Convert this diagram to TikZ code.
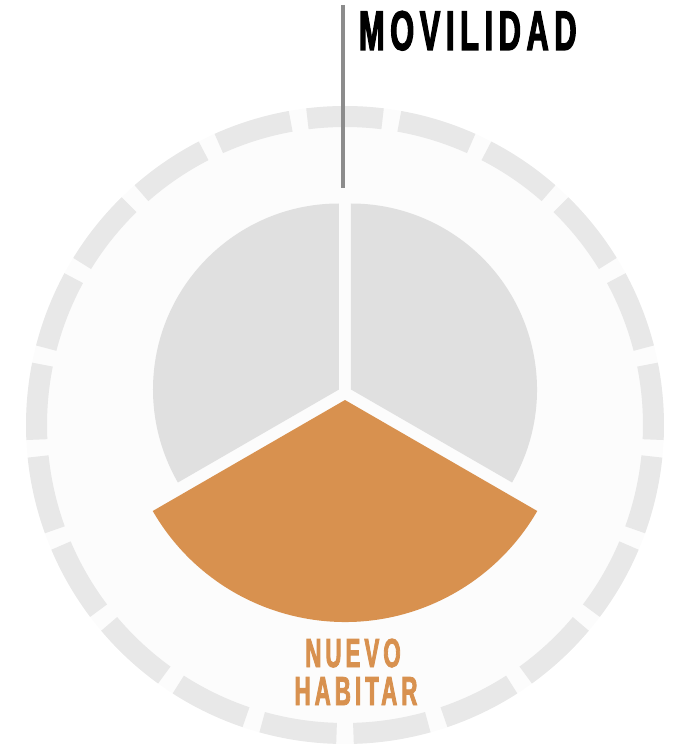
\documentclass[tikz,border=0pt]{standalone}
\usepackage{fontspec}
\newfontfamily\condfont{Liberation Sans Bold}[FakeStretch=0.55,LetterSpace=10,FakeBold=2]
\definecolor{sectorgray}{HTML}{E0E0E0}
\definecolor{ringgray}{HTML}{E8E8E8}
\definecolor{discgray}{HTML}{FCFCFC}
\definecolor{habitar}{HTML}{D8914F}
\definecolor{leadgray}{HTML}{8C8C8C}

\begin{document}
\begin{tikzpicture}[x=1pt, y=1pt,
    every node/.style={inner sep=0pt, outer sep=0pt},
    ringdash/.style={draw=ringgray, line width=21pt},
    wedge/.style={fill=sectorgray},
    title/.style={font=\condfont\fontsize{56}{56}\selectfont, text=black},
    caption/.style={font=\condfont\fontsize{40.5}{40}\selectfont, text=habitar}]
	% Frame
	\useasboundingbox (-345,-320) rectangle (337,425);
	
	% Background disc and dashed ring
	\fill[discgray] (0,0) circle[radius=319pt];
	\foreach \i in {0,...,20}
		\draw[ringdash] ({90+\i*360/21-7}:308.5) arc[start angle={90+\i*360/21-7}, delta angle=14, radius=308.5pt];
	
	% Sectors
	\fill[wedge] (-6,35.5) -- ++(90:186pt) arc[start angle=90, end angle=210, radius=186pt] -- cycle;
	\fill[wedge] (6,35.5) -- ++(-30:186pt) arc[start angle=-30, end angle=90, radius=186pt] -- cycle;
	\fill[habitar] (0,25) -- ++(210:222pt) arc[start angle=210, end angle=330, radius=222pt] -- cycle;
	
	% Title and leader
	\node[title, anchor=base west] (movilidad) at (14,375) {MOVILIDAD};
	\coordinate (leadtop) at (-2,420);
	\coordinate (leadbot) at (-2,237);
	\draw[leadgray, line width=4pt] (leadtop) -- (leadbot);
	
	% Label
	\node[caption, anchor=base] (nuevo) at (8,-242) {NUEVO};
	\node[caption, anchor=base] (habitar) at (11,-280) {HABITAR};
\end{tikzpicture}
\end{document}
